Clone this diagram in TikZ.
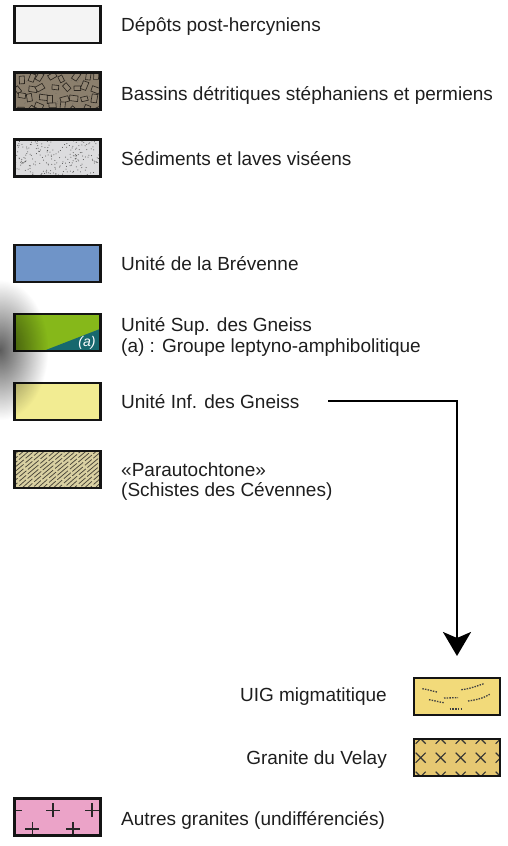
\documentclass[tikz,border=0pt]{standalone}
\usepackage{fontspec}
\setmainfont{Liberation Sans}
\usetikzlibrary{arrows.meta,fadings}
\definecolor{txt}{HTML}{1E1E1E}
\definecolor{cdepot}{HTML}{F4F4F4}
\definecolor{cbassin}{HTML}{8B7F6D}
\definecolor{clastfill}{HTML}{908472}
\definecolor{clastline}{HTML}{2B2620}
\definecolor{csed}{HTML}{DCDCDE}
\definecolor{cbrev}{HTML}{6F94C8}
\definecolor{csupg}{HTML}{86B81A}
\definecolor{cteal}{HTML}{17686E}
\definecolor{cinfg}{HTML}{F2EC92}
\definecolor{cschist}{HTML}{D9D0A2}
\definecolor{schline}{HTML}{4A463A}
\definecolor{cuig}{HTML}{F2DA7A}
\definecolor{cvelay}{HTML}{E6C872}
\definecolor{cpink}{HTML}{EBA3C8}
\tikzfading[name=smudge, inner color=transparent!15, outer color=transparent!100]
\begin{document}
\begin{tikzpicture}[x=1pt,y=-1pt,
  swatch/.style={draw=black!92, line width=2.2pt, minimum width=86pt, minimum height=37pt, inner sep=0pt, outer sep=0pt},
  border/.style={draw=black!92, line width=2.2pt},
  lbl/.style={anchor=base west, inner sep=0pt, text=txt, font=\fontsize{19}{20.7}\selectfont},
  rlbl/.style={lbl, anchor=base east},
  mig/.style={draw=black!75, line width=1.3pt, dash pattern=on 1.5pt off 1.2pt},
  arrowline/.style={line width=2.6pt, draw=black, -{Stealth[length=24pt,width=28pt,inset=6pt]}}
]
\useasboundingbox (0,0) rectangle (507,846);

% 1 Depots
\node[swatch, fill=cdepot] (s1) at (57.5,24.5) {};
\node[lbl] (t1) at (121,31) {Dépôts post-hercyniens};

% 2 Bassins
\node[swatch, fill=cbassin] (s2) at (57.5,91) {};
\begin{scope}
  \clip (s2.north west) rectangle (s2.south east);
  \begin{scope}[shift={(14.5,72.5)}]
    \pgfmathsetseed{12}
    \foreach \k in {1,...,70}{
      \pgfmathsetmacro\dx{rnd*86}\pgfmathsetmacro\dy{rnd*37}
      \fill[clastline!70] (\dx,\dy) circle (0.35);}
    \foreach \i in {0,...,7}{\foreach \j in {0,...,3}{
      \pgfmathsetmacro\cx{5.5+11*\i+3*rand}
      \pgfmathsetmacro\cy{5+10*\j+2.5*rand}
      \pgfmathsetmacro\rot{180*rand}
      \pgfmathsetmacro\sc{1.05+0.35*rnd}
      \draw[line width=0.65pt, draw=clastline, fill=clastfill, shift={(\cx,\cy)}, rotate=\rot, scale=\sc]
        (-3.2,-1.8) -- (2.8,-2.4) -- (3.4,1.6) -- (-2.6,2.2) -- cycle;
    }}
  \end{scope}
\end{scope}
\draw[border] (s2.north west) rectangle (s2.south east);
\node[lbl] (t2) at (121,100) {Bassins détritiques stéphaniens et permiens};

% 3 Sediments
\node[swatch, fill=csed] (s3) at (57.5,158) {};
\begin{scope}
  \clip (s3.north west) rectangle (s3.south east);
  \begin{scope}[shift={(14.5,139.5)}]
    \pgfmathsetseed{5}
    \foreach \k in {1,...,220}{
      \pgfmathsetmacro\dx{rnd*86}\pgfmathsetmacro\dy{rnd*37}
      \fill[black!70] (\dx,\dy) circle (0.5);}
  \end{scope}
\end{scope}
\draw[border] (s3.north west) rectangle (s3.south east);
\node[lbl] (t3) at (121,165) {Sédiments et laves viséens};

% 4 Brevenne
\node[swatch, fill=cbrev] (s4) at (57.5,263.5) {};
\node[lbl] (t4) at (121,270.5) {Unité de la Brévenne};

% 5 Unite Sup
\node[swatch, fill=csupg] (s5) at (57.5,332.5) {};
\begin{scope}
  \clip (s5.north west) rectangle (s5.south east);
  \fill[cteal] (33,355) -- (105,327) -- (105,355) -- cycle;
\end{scope}
\draw[border] (s5.north west) rectangle (s5.south east);
\node[anchor=center, inner sep=0pt, text=white, font=\fontsize{14}{16}\selectfont\itshape] (a5) at (87,342.5) {(a)};
\node[lbl] (t5) at (121,331.5) {\vtop{\hbox{Unité Sup. des Gneiss}\hbox{(a) : Groupe leptyno-amphibolitique}}};

% 6 Unite Inf
\node[swatch, fill=cinfg] (s6) at (57.5,401.5) {};
\node[lbl] (t6) at (121,408.5) {Unité Inf. des Gneiss};

% 7 Parautochtone
\node[swatch, fill=cschist] (s7) at (57.5,469.5) {};
\begin{scope}
  \clip (s7.north west) rectangle (s7.south east);
  \begin{scope}[shift={(14.5,451)}]
    \foreach \k in {0,...,30}{
      \pgfmathsetmacro\s{-60+5.2*\k}
      \pgfmathsetmacro\ph{mod(\k*7,20)}
      \draw[schline, line width=0.75pt, dash pattern=on 9pt off 2pt on 14pt off 2.5pt, dash phase=\ph pt]
        (\s,42) .. controls (\s+12,30) and (\s+30,16) .. (\s+52,-3);}
  \end{scope}
\end{scope}
\draw[border] (s7.north west) rectangle (s7.south east);
\node[lbl] (t7) at (121,476) {\vtop{\hbox{«Parautochtone»}\hbox{(Schistes des Cévennes)}}};

% UIG migmatitique
\node[swatch, fill=cuig] (uig) at (457,696.5) {};
\begin{scope}[shift={(413,677)}]
  \draw[mig] (9.3,11.7) .. controls (15,12.5) and (19,14) .. (24,15);
  \draw[mig] (48.3,12.7) .. controls (56,12) and (64,9) .. (70.7,6.7);
  \draw[mig] (16,22.7) .. controls (21,23.5) and (26,25) .. (31,25.7);
  \draw[mig] (31,21) -- (45,20.7);
  \draw[mig] (55,24) .. controls (63,23) and (71,21) .. (76.7,17.3);
  \draw[mig] (36.7,32) -- (50,32);
\end{scope}
\node[rlbl] (tuig) at (387,701.7) {UIG migmatitique};

% Granite du Velay
\node[swatch, fill=cvelay] (vel) at (457,757.5) {};
\begin{scope}
  \clip (vel.north west) rectangle (vel.south east);
  \begin{scope}[shift={(413,738)}]
    \foreach \cx in {7.7,27.7,47.7,67.7,87.7}{\foreach \cy in {0.7,19.7,38.7}{
      \draw[black!80, line width=1.1pt] (\cx-5,\cy-5) -- (\cx+5,\cy+5) (\cx-5,\cy+5) -- (\cx+5,\cy-5);}}
  \end{scope}
\end{scope}
\draw[border] (vel.north west) rectangle (vel.south east);
\node[rlbl] (tvel) at (387,764.3) {Granite du Velay};

% Autres granites
\node[swatch, fill=cpink] (s8) at (57.5,817) {};
\begin{scope}
  \clip (s8.north west) rectangle (s8.south east);
  \begin{scope}[shift={(14,797)}]
    \foreach \cx/\cy in {0.7/13.3, 39/13.3, 78/13.3, 18.3/32, 59/32, 19/-4.5, 59/-4.5}{
      \draw[black!85, line width=1.1pt] (\cx-7,\cy) -- (\cx+7,\cy) (\cx,\cy-7) -- (\cx,\cy+7);}
  \end{scope}
\end{scope}
\draw[border] (s8.north west) rectangle (s8.south east);
\node[lbl] (t8) at (121,825) {Autres granites (undifférenciés)};

% shadow smudge
\fill[black, path fading=smudge, fill opacity=0.75] (-48,280) rectangle (48,420);

% arrow
\coordinate (a0) at (328,401);
\draw[arrowline] (a0) -| ([yshift=22pt]uig.north);
\end{tikzpicture}
\end{document}
